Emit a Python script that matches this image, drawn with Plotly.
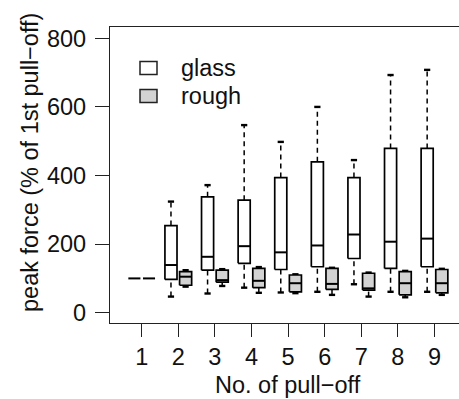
import plotly.graph_objects as go

# ---- data ----
pulloffs = [1, 2, 3, 4, 5, 6, 7, 8, 9]
glass_lo = [100, 47, 56, 73, 59, 61, 83, 61, 61]
glass_q1 = [100, 97, 124, 144, 126, 134, 158, 129, 134]
glass_med = [100, 139, 163, 194, 176, 196, 228, 207, 216]
glass_q3 = [100, 254, 338, 328, 394, 440, 394, 479, 479]
glass_hi = [100, 324, 372, 547, 498, 600, 445, 693, 708]

rough_lo = [100, 76, 78, 58, 57, 52, 47, 45, 52]
rough_q1 = [100, 80, 89, 73, 61, 68, 66, 52, 58]
rough_med = [100, 105, 95, 93, 86, 84, 71, 86, 86]
rough_q3 = [100, 120, 124, 129, 110, 129, 115, 120, 126]
rough_hi = [100, 124, 127, 133, 112, 131, 117, 122, 128]

y_ticks = [0, 200, 400, 600, 800]
series_names = ["glass", "rough"]
fills = ["white", "#d3d3d3"]

OFF = 0.2
BW = 0.33
CAP = 0.17
LW = 1.7
FONT = "Liberation Sans, Arial, sans-serif"
TXT = "#111111"
FS = 23.5

fig = go.Figure()


def add_series(offset, lo, q1, med, q3, hi, fill):
    bx, by, mx, my, wx, wy, cx, cy = [], [], [], [], [], [], [], []
    for g, a, b, m, c, d in zip(pulloffs, lo, q1, med, q3, hi):
        x = g + offset
        l, r = x - BW / 2, x + BW / 2
        if c > b:
            bx += [l, r, r, l, l, None]
            by += [b, b, c, c, b, None]
        mx += [l, r, None]
        my += [m, m, None]
        if d > c:
            wx += [x, x, None]
            wy += [c, d, None]
            cx += [x - CAP / 2, x + CAP / 2, None]
            cy += [d, d, None]
        if a < b:
            wx += [x, x, None]
            wy += [a, b, None]
            cx += [x - CAP / 2, x + CAP / 2, None]
            cy += [a, a, None]
    fig.add_trace(go.Scatter(x=wx, y=wy, mode="lines",
                             line=dict(color="black", width=1.5, dash="5px,4px"),
                             hoverinfo="skip", showlegend=False))
    fig.add_trace(go.Scatter(x=cx, y=cy, mode="lines",
                             line=dict(color="black", width=2.4),
                             hoverinfo="skip", showlegend=False))
    fig.add_trace(go.Scatter(x=bx, y=by, mode="lines", fill="toself",
                             fillcolor=fill, line=dict(color="black", width=LW),
                             hoverinfo="skip", showlegend=False))
    fig.add_trace(go.Scatter(x=mx, y=my, mode="lines",
                             line=dict(color="black", width=2.0),
                             hoverinfo="skip", showlegend=False))


add_series(-OFF, glass_lo, glass_q1, glass_med, glass_q3, glass_hi, fills[0])
add_series(OFF, rough_lo, rough_q1, rough_med, rough_q3, rough_hi, fills[1])

# ---- layout ----
L, T, B = 110, 27, 76
W, H = 459, 399
pw, ph = W - L, H - T - B

fig.update_layout(
    width=W, height=H,
    margin=dict(l=L, r=0, t=T, b=B),
    paper_bgcolor="white", plot_bgcolor="white",
    showlegend=False,
    font=dict(family=FONT, size=FS, color=TXT),
)
fig.update_xaxes(
    range=[0.134, 9.67], tickvals=pulloffs, ticktext=[str(p) for p in pulloffs],
    showgrid=False, zeroline=False, showline=True, mirror=True,
    linecolor="#222", linewidth=1.3, ticks="outside", ticklen=13,
    tickwidth=1.3, tickcolor="#222", tickfont=dict(size=FS, color=TXT),
)
fig.update_yaxes(
    range=[-30, 833], tickvals=y_ticks,
    showgrid=False, zeroline=False, showline=True, mirror=False,
    linecolor="#222", linewidth=1.3, ticks="outside", ticklen=14,
    tickwidth=1.3, tickcolor="#222", tickfont=dict(size=FS, color=TXT),
    ticklabelstandoff=4,
)


def px(xp):
    return (xp - L) / pw


def py(yp):
    return (H - B - yp) / ph


# axis titles
fig.add_annotation(text="No. of pull\u2212off", xref="paper", yref="paper",
                   x=px(288), y=py(385), xanchor="center", yanchor="middle",
                   showarrow=False, font=dict(size=FS, color=TXT))
fig.add_annotation(text="peak force (% of 1st pull\u2212off)", xref="paper", yref="paper",
                   x=px(30), y=py(163), xanchor="center", yanchor="middle",
                   textangle=-90, showarrow=False, font=dict(size=FS, color=TXT))

# legend (manual, R style)
leg_y = [68, 96]
for name, fc, yc in zip(series_names, fills, leg_y):
    fig.add_shape(type="rect", xref="paper", yref="paper",
                  x0=px(140), x1=px(157), y0=py(yc + 6.5), y1=py(yc - 6.5),
                  line=dict(color="#222", width=1.5), fillcolor=fc)
    fig.add_annotation(text=name, xref="paper", yref="paper",
                       x=px(179), y=py(yc), xanchor="left", yanchor="middle",
                       showarrow=False, font=dict(size=FS, color=TXT))

fig.write_html("out.html")
